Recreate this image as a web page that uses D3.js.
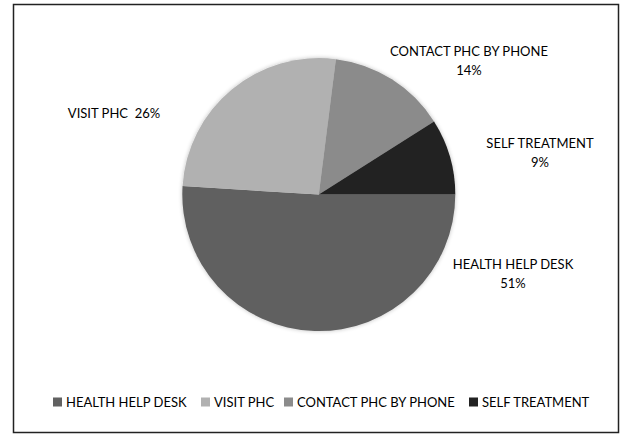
<!DOCTYPE html>
<html>
<head>
<meta charset="utf-8">
<script src="https://cdn.jsdelivr.net/npm/d3@7"></script>
<style>
  body { margin: 0; background: #fff; }
  text { font-family: Lato, "Open Sans", sans-serif; fill: #000; white-space: pre; }
</style>
</head>
<body>
<svg id="chart" width="623" height="435"></svg>
<script>
// data
const categories = ['HEALTH HELP DESK', 'VISIT PHC', 'CONTACT PHC BY PHONE', 'SELF TREATMENT'];
const values = [51, 26, 14, 9];
const colors = ['#616161', '#b1b1b1', '#8b8b8b', '#222222'];

// label placement (lines and position per slice)
const labelLines = [
    ['HEALTH HELP DESK', '51%'],
    ['VISIT PHC  26%'],
    ['CONTACT PHC BY PHONE', '14%'],
    ['SELF TREATMENT', '9%']
];
const labelPos = [[513, 269], [114, 118], [469, 56], [540, 148]];

const svg = d3.select('#chart');

// frame
svg.append('rect')
    .attr('x', 13.5).attr('y', 4.5)
    .attr('width', 605).attr('height', 428)
    .attr('fill', '#fff')
    .attr('stroke', '#222')
    .attr('stroke-width', 1.5);

// soft shadow round the pie
const defs = svg.append('defs');
const f = defs.append('filter').attr('id', 'soft')
    .attr('x', '-10%').attr('y', '-10%').attr('width', '120%').attr('height', '120%');
f.append('feGaussianBlur').attr('in', 'SourceAlpha').attr('stdDeviation', 2).attr('result', 'b');
f.append('feComponentTransfer').append('feFuncA').attr('type', 'linear').attr('slope', 0.25);
const m = f.append('feMerge');
m.append('feMergeNode');
m.append('feMergeNode').attr('in', 'SourceGraphic');

const cx = 318.8, cy = 194.6, r = 136.5;

const color = d3.scaleOrdinal().domain(categories).range(colors);

const pie = d3.pie()
    .sort(null)
    .value(d => d.v)
    .startAngle(Math.PI / 2)
    .endAngle(Math.PI / 2 + 2 * Math.PI);

const arc = d3.arc().innerRadius(0).outerRadius(r);

const data = categories.map((c, i) => ({ c: c, v: values[i] }));

const gPie = svg.append('g')
    .attr('transform', `translate(${cx},${cy})`)
    .attr('filter', 'url(#soft)');

gPie.selectAll('path')
    .data(pie(data))
    .join('path')
    .attr('d', arc)
    .attr('fill', d => color(d.data.c));

// data labels
const gLab = svg.append('g');
labelLines.forEach((lines, i) => {
    const t = gLab.append('text')
        .attr('text-anchor', 'middle')
        .attr('font-size', 13);
    lines.forEach((s, j) => {
        t.append('tspan')
            .attr('x', labelPos[i][0])
            .attr('y', labelPos[i][1] + j * 19)
            .text(s);
    });
});

// legend
const size = 9;
const legendX = [53, 201, 284, 469];
const legY = 402;
const gLeg = svg.append('g');
const item = gLeg.selectAll('g')
    .data(categories)
    .join('g')
    .attr('transform', (d, i) => `translate(${legendX[i]},${legY})`);

item.append('rect')
    .attr('y', -size / 2)
    .attr('width', size)
    .attr('height', size)
    .attr('fill', d => color(d));

item.append('text')
    .attr('x', size + 4)
    .attr('dy', '0.36em')
    .attr('font-size', 13)
    .text(d => d);
</script>
</body>
</html>
